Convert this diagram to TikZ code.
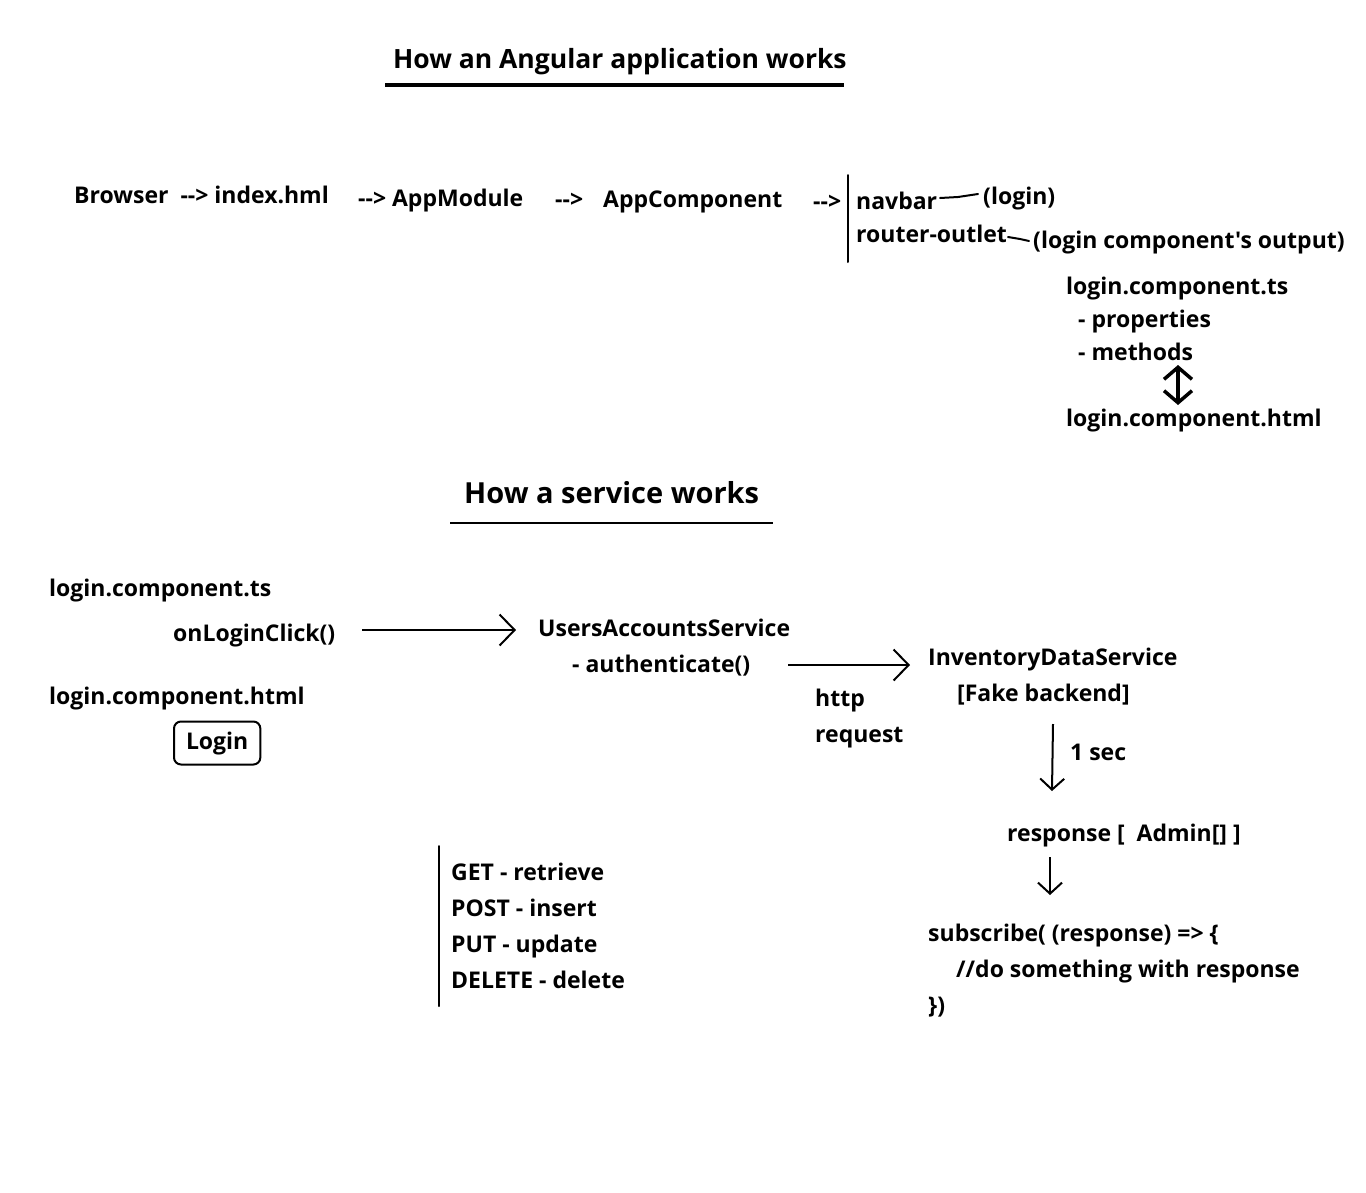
\documentclass[tikz,border=0pt]{standalone}
\usepackage{fontspec}
\newfontfamily\osans{Open Sans}
\usetikzlibrary{arrows.meta}
\tikzset{
  txt/.style={anchor=west, inner sep=0pt, text height=18pt, text depth=5pt, font=\osans\fontsize{23}{27}\selectfont\bfseries},
  ttl/.style={anchor=west, inner sep=0pt, text height=21pt, text depth=6pt, font=\osans\fontsize{26.5}{32}\selectfont\bfseries},
  ttlb/.style={ttl, font=\osans\fontsize{29}{34}\selectfont\bfseries},
  ln/.style={line width=2pt, line cap=round},
  barb/.style={line width=2pt, -{Straight Barb[length=15pt, width=31pt, line width=2pt]}},
  dbarb/.style={line width=2pt, -{Straight Barb[length=11pt, width=24pt, line width=2pt]}},
}
\begin{document}
\begin{tikzpicture}[x=1pt, y=-1pt]
\useasboundingbox (0,0) rectangle (1366,1192);
% Title 1
\node[ttl] (t1) at (393,61) {How an Angular application works};
\draw[line width=3.5pt] (385,85) coordinate (u1a) -- (844,85) coordinate (u1b);
% Flow line
\node[txt] (browser) at (74,197) {Browser\ \ --> index.hml};
\node[txt] (appmod) at (358,200) {--> AppModule};
\node[txt] (arr3) at (555,201) {-->};
\node[txt] (appcomp) at (603,201) {AppComponent};
\node[txt] (arr4) at (813,203) {-->};
\draw[ln] (848,175) coordinate (va) -- (848,262) coordinate (vb);
\node[txt] (navbar) at (856,203) {navbar};
\node[txt] (loginp) at (983,198) {(login)};
\draw[ln] (940,198) -- (958,197) -- (978,194);
\node[txt] (router) at (856,236) {router-outlet};
\node[txt] (lout) at (1033,242) {(login component's output)};
\draw[ln] (1008,237) -- (1020,239) -- (1029,241);
% login component
\node[txt] (lcts) at (1066,288) {login.component.ts};
\node[txt] (props) at (1078,321) {- properties};
\node[txt] (meths) at (1078,354) {- methods};
\node[txt] (lchtml) at (1066,420) {login.component.html};
\draw[line width=3.5pt, {Straight Barb[length=12pt, width=28pt, line width=3.5pt]}-{Straight Barb[length=12pt, width=28pt, line width=3.5pt]}] (1178,365) coordinate (da) -- (1178,405) coordinate (db);
% Title 2
\node[ttlb] (t2) at (464,496) {How a service works};
\draw[line width=2.5pt] (450,523) coordinate (u2a) -- (773,523) coordinate (u2b);
% Service
\node[txt] (lcts2) at (49,590) {login.component.ts};
\node[txt] (onclick) at (173,635) {onLoginClick()};
\node[txt] (lchtml2) at (49,698) {login.component.html};
\node[txt, draw, line width=2pt, rounded corners=7pt, inner xsep=12pt, inner ysep=10pt] (loginbtn) at (173,743) {Login};
\node[txt] (uas) at (538,630) {UsersAccountsService};
\node[txt] (auth) at (572,666) {- authenticate()};
\node[txt] (ids) at (928,659) {InventoryDataService};
\node[txt] (fake) at (957,695) {[Fake backend]};
\node[txt] (http) at (815,700) {http};
\node[txt] (req) at (815,736) {request};
\node[txt] (sec) at (1070,754) {1 sec};
\node[txt] (resp) at (1007,835) {response [\ \ Admin[] ]};
\node[txt] (sub1) at (928,935) {subscribe( (response) => \{};
\node[txt] (sub2) at (956,971) {//do something with response};
\node[txt] (sub3) at (928,1007) {\})};
\draw[barb] (362,630) coordinate (a1s) -- (516,630) coordinate (a1e);
\draw[barb] (788,665) coordinate (a2s) -- (910,665) coordinate (a2e);
\draw[dbarb] (1053,724) coordinate (a3s) -- (1052,791) coordinate (a3e);
\draw[dbarb] (1050,857) coordinate (a4s) -- (1050,895) coordinate (a4e);
% HTTP verbs
\draw[ln] (439,846) coordinate (hva) -- (439,1006) coordinate (hvb);
\node[txt] (get) at (451,874) {GET - retrieve};
\node[txt] (post) at (451,910) {POST - insert};
\node[txt] (put) at (451,946) {PUT - update};
\node[txt] (del) at (451,982) {DELETE - delete};
\end{tikzpicture}
\end{document}
